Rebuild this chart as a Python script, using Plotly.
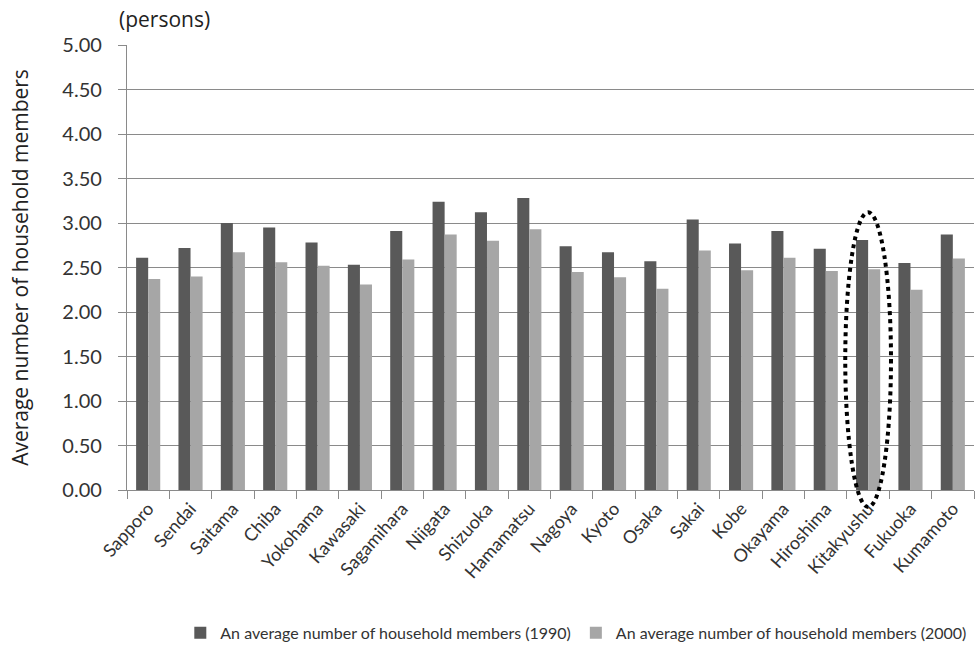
import plotly.graph_objects as go

cities = ["Sapporo", "Sendai", "Saitama", "Chiba", "Yokohama", "Kawasaki", "Sagamihara",
          "Niigata", "Shizuoka", "Hamamatsu", "Nagoya", "Kyoto", "Osaka", "Sakai", "Kobe",
          "Okayama", "Hiroshima", "Kitakyushu", "Fukuoka", "Kumamoto"]
members_1990 = [2.61, 2.72, 3.00, 2.95, 2.78, 2.53, 2.91, 3.24, 3.12, 3.28,
                2.74, 2.67, 2.57, 3.04, 2.77, 2.91, 2.71, 2.81, 2.55, 2.87]
members_2000 = [2.37, 2.40, 2.67, 2.56, 2.52, 2.31, 2.59, 2.87, 2.80, 2.93,
                2.45, 2.39, 2.26, 2.69, 2.47, 2.61, 2.46, 2.48, 2.25, 2.60]
y_ticks = [0.0, 0.5, 1.0, 1.5, 2.0, 2.5, 3.0, 3.5, 4.0, 4.5, 5.0]
highlight_city = "Kitakyushu"

name_1990 = "An average number of household members (1990)"
name_2000 = "An average number of household members (2000)"

fig = go.Figure()
fig.add_trace(go.Bar(x=cities, y=members_1990, name=name_1990,
                     marker=dict(color="#595959", line=dict(width=0))))
fig.add_trace(go.Bar(x=cities, y=members_2000, name=name_2000,
                     marker=dict(color="#a6a6a6", line=dict(width=0))))

y_max = y_ticks[-1]
# dotted ellipse around the highlighted city, in axis-domain units
idx = cities.index(highlight_city)
cx = (idx + 0.5) / len(cities)
half_w = 0.027
top = (members_1990[idx] + 0.31) / y_max
bottom = -0.19 / y_max
fig.add_shape(type="circle", xref="x domain", yref="y domain",
              x0=cx - half_w, x1=cx + half_w, y0=bottom, y1=top,
              line=dict(color="black", width=4, dash="dot"), layer="above")

fig.add_annotation(text="(persons)", xref="paper", yref="paper", x=-0.012, y=1.022,
                   xanchor="left", yanchor="bottom", showarrow=False,
                   font=dict(family="Open Sans", size=21, color="#222222"))

fig.update_layout(
    width=979, height=653,
    margin=dict(l=127, r=5, t=45, b=163, autoexpand=False),
    paper_bgcolor="white", plot_bgcolor="white",
    barmode="group", bargap=0.43, bargroupgap=0.0,
    font=dict(family="Lato", color="#333333"),
    legend=dict(orientation="h", x=0.998, xanchor="right",
                yref="container", y=0.057, yanchor="top",
                font=dict(family="Lato", size=16, color="#333333"),
                traceorder="normal", itemwidth=30),
)
fig.update_yaxes(range=[0, y_max], tickvals=y_ticks, automargin=False,
                 ticktext=[f"{v:.2f}" for v in y_ticks],
                 tickfont=dict(family="Lato", size=20, color="#333333"),
                 ticklabelstandoff=12,
                 showgrid=True, gridcolor="#8a8a8a", gridwidth=1.3,
                 showline=True, linecolor="#8a8a8a", linewidth=1.3,
                 ticks="outside", ticklen=8, tickcolor="#8a8a8a", zeroline=False,
                 title=dict(text="Average number of household members",
                            font=dict(family="Open Sans", size=21, color="#222222"),
                            standoff=27))
fig.update_xaxes(tickangle=-48, tickson="boundaries", ticks="outside", ticklen=8,
                 automargin=False,
                 tickcolor="#8a8a8a", showline=True, linecolor="#8a8a8a", linewidth=1.3,
                 tickfont=dict(family="Lato", size=18, color="#333333"))

fig.write_html("out.html")
